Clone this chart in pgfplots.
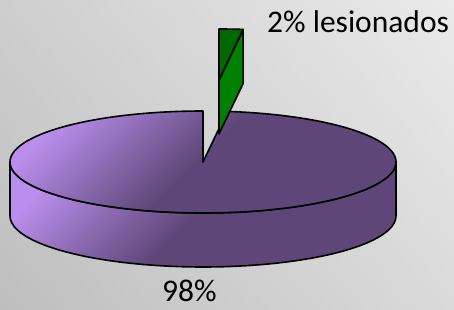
\documentclass[border=0pt]{standalone}
\usepackage{pgfplots}
\pgfplotsset{compat=1.18}
\usepackage{fontspec}
\setmainfont{Carlito}
\usetikzlibrary{shadings}
\definecolor{pielight}{RGB}{186,142,236}
\definecolor{piedark}{RGB}{94,71,120}
\definecolor{greentop}{RGB}{0,104,0}
\definecolor{greenside}{RGB}{0,128,0}
\definecolor{bgUL}{RGB}{206,206,206}
\definecolor{bgUR}{RGB}{234,234,234}
\definecolor{bgLL}{RGB}{190,190,190}
\definecolor{bgLR}{RGB}{218,218,218}
\pgfdeclarehorizontalshading{piegrad}{100bp}{color(0bp)=(pielight); color(23bp)=(pielight); color(49bp)=(piedark); color(100bp)=(piedark)}
% data: share of lesionados and the rest
\def\valLes{2}
\def\valRest{98}
\pgfmathsetmacro{\angLes}{90-3.6*\valLes}      % start angle of green slice
\pgfmathsetmacro{\angEnd}{\angLes+360}          % end of purple slice
\pgfmathsetmacro{\angEndA}{\angEnd-0.8}
\pgfmathsetmacro{\angEndB}{\angEnd+0.2}
\pgfmathsetmacro{\gx}{219+193*cos(\angLes)}
\pgfmathsetmacro{\gy}{229+51*sin(\angLes)}
\pgfmathsetmacro{\gyb}{\gy-54}
\begin{document}
\begin{tikzpicture}
\begin{axis}[
  scale only axis, width=454pt, height=309pt,
  xmin=0, xmax=454, ymin=0, ymax=309,
  axis line style={draw=none}, ticks=none,
  axis background/.style={shade, upper left=bgUL, upper right=bgUR, lower left=bgLL, lower right=bgLR},
  clip=false,
]
% side of the purple slice
\addplot[shading=piegrad, shading angle=-45, draw=black, line width=1.6pt, line join=round,
  samples at={180,184,...,360,360.01,364,368,...,540}]
  ({203+193*cos(x<360.005 ? x : 720-x)},{(x<360.005 ? 147 : 93)+51*sin(x<360.005 ? x : 720-x)}) -- cycle;
% top face of the purple slice (98%)
\addplot[shading=piegrad, shading angle=-45, draw=black, line width=1.6pt, line join=round,
  samples at={89,90,92,...,440,\angEndA,\angEnd,\angEndB}]
  ({(x<89.5||x>\angEnd+0.1) ? 203 : 203+193*cos(x)},{(x<89.5||x>\angEnd+0.1) ? 147 : 147+51*sin(x)}) -- cycle;
% exploded green slice (2%): cut face
\addplot[fill=greenside, draw=black, line width=1.6pt, line join=round]
  coordinates {(219,229) (\gx,\gy) (\gx,\gyb) (219,175)} -- cycle;
% green top face
\addplot[fill=greentop, draw=black, line width=1.6pt, line join=round,
  samples at={80,\angLes,84,86,88,90}]
  ({x<81 ? 219 : 219+193*cos(x)},{x<81 ? 229 : 229+51*sin(x)}) -- cycle;
\node[anchor=base west, inner sep=0pt, font=\fontsize{31.5}{36}\selectfont] at (axis cs:267,277) {2\% lesionados};
\node[anchor=base west, inner sep=0pt, font=\fontsize{31.5}{36}\selectfont] at (axis cs:162,8) {98\%};
\end{axis}
\end{tikzpicture}
\end{document}
